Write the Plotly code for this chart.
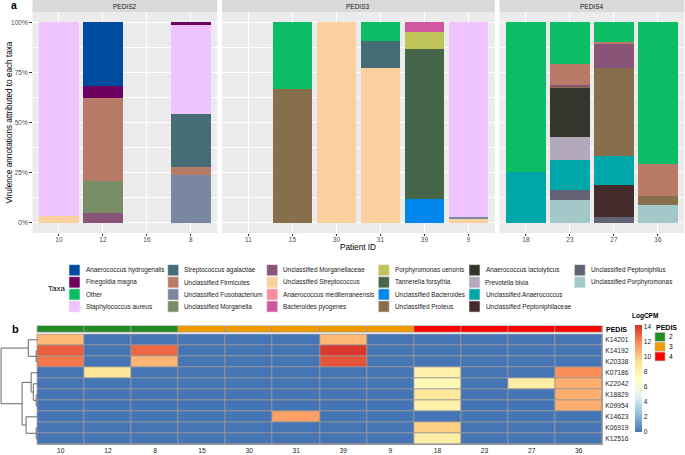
import plotly.graph_objects as go

W, H = 685, 455
FONT = "Liberation Sans, Arial, Helvetica, sans-serif"


def px(x):
    return x / W


def py(y):
    return 1 - y / H


# ---------------- Panel a data ----------------
pedis_groups = ["PEDIS2", "PEDIS3", "PEDIS4"]
group_patients = [["10", "12", "16", "8"],
                  ["11", "15", "30", "31", "39", "9"],
                  ["18", "23", "27", "36"]]
patients = [p for g in group_patients for p in g]

taxa = ["Anaerococcus hydrogenalis", "Finegoldia magna", "Other", "Staphylococcus aureus",
        "Streptococcus agalactiae", "Unclassified Firmicutes", "Unclassified Fusobacterium",
        "Unclassified Morganella", "Unclassified Morganellaceae", "Unclassified Streptococcus",
        "Anaerococcus mediterraneensis", "Bacteroides pyogenes", "Porphyromonas uenonis",
        "Tannerella forsythia", "Unclassified Bacteroides", "Unclassified Proteus",
        "Anaerococcus lactolyticus", "Prevotella bivia", "Unclassified Anaerococcus",
        "Unclassified Peptoniphilaceae", "Unclassified Peptoniphilus", "Unclassified Porphyromonas"]

taxa_colors = ["#004B9F", "#6E005F", "#0CBD66", "#EEC3FF",
               "#456D75", "#B77B68", "#7A87A1",
               "#788D66", "#885578", "#FAD09F",
               "#FF8A9A", "#D157A0", "#BEC459",
               "#456648", "#0086ED", "#886F4C",
               "#34362D", "#B4A8BD", "#00A6AA",
               "#452C2C", "#636375", "#A3C8C9"]

# percent of virulence annotations; columns follow `patients`
#          10    12   16   8     11  15    30   31    39    9     18    23    27    36
share = [
    [0,    31.7, 0,   0,    0,  0,    0,   0,    0,    0,    0,    0,    0,    0],
    [0,    6.1,  0,   1.2,  0,  0,    0,   0,    0,    0,    0,    0,    0,    0],
    [0,    0,    0,   0,    0,  33.4, 0,   9.1,  0,    0,    74.6, 20.8, 9.8,  70.6],
    [96.3, 0,    0,   44.6, 0,  0,    0,   0,    0,    97.2, 0,    0,    0,    0],
    [0,    0,    0,   26.1, 0,  0,    0,   13.5, 0,    0,    0,    0,    0,    0],
    [0,    41.5, 0,   4.0,  0,  0,    0,   0,    0,    0,    0,    10.5, 0.8,  15.8],
    [0,    0,    0,   24.1, 0,  0,    0,   0,    0,    0.5,  0,    0,    0,    0],
    [0,    15.8, 0,   0,    0,  0,    0,   0,    0,    0,    0,    0,    0,    0],
    [0,    4.9,  0,   0,    0,  0,    0,   0,    0,    0,    0,    0.9,  12.1, 0],
    [3.7,  0,    0,   0,    0,  0,    100, 77.4, 0,    2.3,  0,    0,    0,    0],
    [0,    0,    0,   0,    0,  0,    0,   0,    0,    0,    0,    0,    0,    0],
    [0,    0,    0,   0,    0,  0,    0,   0,    4.8,  0,    0,    0,    0,    0],
    [0,    0,    0,   0,    0,  0,    0,   0,    8.5,  0,    0,    0,    0,    0],
    [0,    0,    0,   0,    0,  0,    0,   0,    74.6, 0,    0,    0,    0,    0],
    [0,    0,    0,   0,    0,  0,    0,   0,    12.1, 0,    0,    0,    0,    0],
    [0,    0,    0,   0,    0,  66.6, 0,   0,    0,    0,    0,    0.8,  43.9, 4.6],
    [0,    0,    0,   0,    0,  0,    0,   0,    0,    0,    0,    24.3, 0,    0],
    [0,    0,    0,   0,    0,  0,    0,   0,    0,    0,    0,    11.5, 0,    0],
    [0,    0,    0,   0,    0,  0,    0,   0,    0,    0,    25.4, 15.1, 14.5, 0],
    [0,    0,    0,   0,    0,  0,    0,   0,    0,    0,    0,    0,    15.9, 0],
    [0,    0,    0,   0,    0,  0,    0,   0,    0,    0,    0,    4.7,  3.0,  0],
    [0,    0,    0,   0,    0,  0,    0,   0,    0,    0,    0,    11.6, 0,    9.0],
]

y_ticks = [0, 25, 50, 75, 100]
y_ticktext = ["0%", "25%", "50%", "75%", "100%"]

# ---------------- Panel b data ----------------
heat_cols = ["10", "12", "8", "15", "30", "31", "39", "9", "18", "23", "27", "36"]
heat_pedis = [2, 2, 2, 3, 3, 3, 3, 3, 4, 4, 4, 4]
ko_rows = ["K14201", "K14192", "K20338", "K07186", "K22042",
           "K18829", "K09954", "K14623", "K06919", "K12516"]
logcpm = [
    [10.6, 0,   0,    0, 0, 0,    10.6, 0, 0,   0, 0,   0],
    [13.0, 0,   12.8, 0, 0, 0,    14.0, 0, 0,   0, 0,   0],
    [12.4, 0,   10.7, 0, 0, 0,    13.3, 0, 0,   0, 0,   0],
    [0,    8.9, 0,    0, 0, 0,    0,    0, 8.2, 0, 0,   11.8],
    [0,    0,   0,    0, 0, 0,    0,    0, 7.5, 0, 8.4, 10.9],
    [0,    0,   0,    0, 0, 0,    0,    0, 8.8, 0, 0,   10.9],
    [0,    0,   0,    0, 0, 0,    0,    0, 8.2, 0, 0,   10.9],
    [0,    0,   0,    0, 0, 11.3, 0,    0, 0,   0, 0,   0],
    [0,    0,   0,    0, 0, 0,    0,    0, 9.9, 0, 0,   0],
    [0,    0,   0,    0, 0, 0,    0,    0, 8.5, 0, 0,   0],
]
# row dendrogram merges: (left node, right node, height); leaves are 0..9, new nodes 10..
row_merges = [(1, 2, 0.03), (0, 10, 0.25), (5, 6, 0.03), (4, 12, 0.11), (3, 13, 0.17),
              (8, 9, 0.03), (7, 15, 0.31), (14, 16, 0.42), (11, 17, 1.0)]
pedis_colors = {2: "#228B22", 3: "#EE9A00", 4: "#FF0000"}
heat_palette = ["#4575B4", "#91BFDB", "#E0F3F8", "#FFFFBF", "#FEE090", "#FC8D59", "#D73027"]

# ---------------- Figure ----------------
fig = go.Figure()
shapes = []
annotations = []


def note(text, x, y, size, xanchor="center", angle=0, color="black"):
    annotations.append(dict(text=text, x=px(x), y=py(y), xref="paper", yref="paper",
                            xanchor=xanchor, yanchor="middle", textangle=angle, showarrow=False,
                            borderpad=0, font=dict(family=FONT, size=size, color=color)))


panel_x = [(32.5, 217.3), (222.0, 494.8), (499.5, 684.3)]
panel_top, panel_bottom = 12.3, 233.0
strip_top = 0.0

for gi, (gname, gpats) in enumerate(zip(pedis_groups, group_patients)):
    xa = "x" if gi == 0 else f"x{gi + 1}"
    ya = "y" if gi == 0 else f"y{gi + 1}"
    idx = [patients.index(p) for p in gpats]
    for ti in range(len(taxa) - 1, -1, -1):
        vals = [share[ti][j] for j in idx]
        fig.add_trace(go.Bar(x=gpats, y=vals, width=0.9, marker=dict(color=taxa_colors[ti], line=dict(width=0)),
                             name=taxa[ti], showlegend=False, xaxis=xa, yaxis=ya,
                             hovertemplate="%{x}: %{y}%<extra>" + taxa[ti] + "</extra>"))
    x0, x1 = panel_x[gi]
    axis_common = dict(domain=[px(x0), px(x1)], type="category", categoryorder="array",
                       categoryarray=gpats, range=[-0.6, len(gpats) - 0.4],
                       showgrid=True, gridcolor="white", gridwidth=1.1, zeroline=False,
                       ticks="outside", ticklen=2, tickwidth=0.8, tickcolor="#333333",
                       ticklabelstandoff=-2,
                       tickfont=dict(family=FONT, size=6.5, color="#4D4D4D"), fixedrange=True)
    fig.update_layout({("xaxis" if gi == 0 else f"xaxis{gi + 1}"): dict(anchor=ya, **axis_common)})
    yax = dict(domain=[py(panel_bottom), py(panel_top)], range=[-5, 105], anchor=xa,
               tickvals=y_ticks, ticktext=y_ticktext, showgrid=True, gridcolor="white",
               gridwidth=1.1, zeroline=False,
               minor=dict(tickvals=[12.5, 37.5, 62.5, 87.5], showgrid=True, gridcolor="white",
                          gridwidth=0.5, ticks=""),
               tickfont=dict(family=FONT, size=6.5, color="#4D4D4D"), fixedrange=True)
    if gi == 0:
        yax.update(ticks="outside", ticklen=2.5, tickwidth=0.8, tickcolor="#333333")
    else:
        yax.update(showticklabels=False, ticks="")
    fig.update_layout({("yaxis" if gi == 0 else f"yaxis{gi + 1}"): yax})
    # panel background and strip
    shapes.append(dict(type="rect", xref="paper", yref="paper", x0=px(x0), x1=px(x1),
                       y0=py(panel_bottom), y1=py(panel_top), fillcolor="#EBEBEB",
                       line=dict(width=0), layer="below"))
    shapes.append(dict(type="rect", xref="paper", yref="paper", x0=px(x0), x1=px(x1),
                       y0=py(panel_top), y1=py(strip_top), fillcolor="#D9D9D9",
                       line=dict(width=0), layer="below"))
    note(gname, (x0 + x1) / 2, (strip_top + panel_top) / 2 + 0.3, 6.5, color="#1A1A1A")

fig.update_layout(barmode="stack", bargap=0.1)

# axis titles / panel label
note("Virulence annotations attributed to each taxa", 9, 122.5, 8.2, angle=-90)
note("Patient ID", 358, 248, 8.2)
note("<b>a</b>", 14, 5.5, 10.5)

# Taxa legend (6 columns x 4 rows, column-major like ggplot)
leg_col_x = [69, 167.7, 266.7, 378.3, 469, 574.3]
leg_row_y = [270.2, 282.3, 294.4, 306.5]
note("Taxa", 47, 288.5, 8, xanchor="left")
for i, (tname, tcol) in enumerate(zip(taxa, taxa_colors)):
    c, r = divmod(i, 4)
    lx, ly = leg_col_x[c], leg_row_y[r]
    shapes.append(dict(type="rect", xref="paper", yref="paper", x0=px(lx), x1=px(lx + 11),
                       y0=py(ly + 5.6), y1=py(ly - 5.6), fillcolor=tcol,
                       line=dict(width=0.6, color="#F2F2F2")))
    note(tname, lx + 15.5, ly, 6.4, xanchor="left", color="#1A1A1A")

# ---------------- Panel b ----------------
hx0, hx1, hy0, hy1 = 37.3, 602.3, 334.3, 444.3
by0, by1 = 326.0, 331.8

n = len(heat_palette)
colorscale = [[i / (n - 1), c] for i, c in enumerate(heat_palette)]
fig.add_trace(go.Heatmap(z=logcpm, x=heat_cols, y=ko_rows, xaxis="x4", yaxis="y4",
                         colorscale=colorscale, zmin=0, zmax=14.2, xgap=1, ygap=1,
                         hovertemplate="%{y} / %{x}: %{z}<extra></extra>",
                         colorbar=dict(x=px(635), xanchor="left", y=py(324.7), yanchor="top",
                                       len=106.8 / H, lenmode="fraction", thickness=6.5,
                                       thicknessmode="pixels", xpad=0, ypad=0, outlinewidth=0,
                                       tickvals=list(range(0, 15, 2)), ticks="",
                                       tickfont=dict(family=FONT, size=6.7, color="#222222"))))
fig.update_layout(
    xaxis4=dict(domain=[px(hx0), px(hx1)], anchor="y4", type="category", categoryorder="array",
                categoryarray=heat_cols, showgrid=False, zeroline=False, ticks="", showline=False,
                ticklabelstandoff=1,
                tickfont=dict(family=FONT, size=6.7, color="#222222"), fixedrange=True),
    yaxis4=dict(domain=[py(hy1), py(hy0)], anchor="x4", type="category", categoryorder="array",
                categoryarray=ko_rows, autorange="reversed", side="right", showgrid=False,
                zeroline=False, ticks="", ticklabelstandoff=2,
                tickfont=dict(family=FONT, size=6.7, color="#222222"),
                fixedrange=True),
)

# PEDIS annotation bar
pedis_levels = sorted(pedis_colors)
pcs = []
for k, lev in enumerate(pedis_levels):
    pcs.append([k / len(pedis_levels), pedis_colors[lev]])
    pcs.append([(k + 1) / len(pedis_levels), pedis_colors[lev]])
fig.add_trace(go.Heatmap(z=[heat_pedis], x=heat_cols, y=["PEDIS"], xaxis="x5", yaxis="y5",
                         colorscale=pcs, zmin=1.5, zmax=4.5, showscale=False, xgap=1,
                         hovertemplate="%{x}: PEDIS %{z}<extra></extra>"))
fig.update_layout(
    xaxis5=dict(domain=[px(hx0), px(hx1)], anchor="y5", type="category", categoryorder="array",
                categoryarray=heat_cols, visible=False, fixedrange=True),
    yaxis5=dict(domain=[py(by1), py(by0)], anchor="x5", visible=False, fixedrange=True),
)

# grey cell borders behind the heatmaps
for (a0, a1) in [(hy0, hy1), (by0, by1)]:
    shapes.append(dict(type="rect", xref="paper", yref="paper", x0=px(hx0 - 0.6), x1=px(hx1 + 0.6),
                       y0=py(a1 + 0.6), y1=py(a0 - 0.6), fillcolor="#999999",
                       line=dict(width=0), layer="below"))

# row dendrogram computed from merges
n_leaves = len(ko_rows)
node_pos = {i: (0.0, float(i)) for i in range(n_leaves)}
dx, dy = [], []
for k, (a, b, h) in enumerate(row_merges):
    ha, ya_ = node_pos[a]
    hb, yb_ = node_pos[b]
    dx += [ha, h, h, hb, None]
    dy += [ya_, ya_, yb_, yb_, None]
    node_pos[n_leaves + k] = (h, (ya_ + yb_) / 2)
fig.add_trace(go.Scatter(x=dx, y=dy, mode="lines", line=dict(color="#555555", width=0.9),
                         xaxis="x6", yaxis="y6", showlegend=False, hoverinfo="skip"))
max_h = max(m[2] for m in row_merges)
fig.update_layout(
    xaxis6=dict(domain=[0, px(hx0)], anchor="y6", range=[max_h * 1.03, 0], visible=False,
                fixedrange=True),
    yaxis6=dict(domain=[py(hy1), py(hy0)], anchor="x6", range=[n_leaves - 0.5, -0.5],
                visible=False, fixedrange=True),
)

note("<b>PEDIS</b>", 605, 329, 7, xanchor="left")
note("<b>b</b>", 15, 328.5, 11)
note("<b>LogCPM</b>", 631, 316, 6.5, xanchor="left")
note("<b>PEDIS</b>", 654.5, 327, 7, xanchor="left")
for k, lev in enumerate(pedis_levels):
    sy0 = 332.5 + k * 9.8
    shapes.append(dict(type="rect", xref="paper", yref="paper", x0=px(655), x1=px(665),
                       y0=py(sy0 + 8.8), y1=py(sy0), fillcolor=pedis_colors[lev],
                       line=dict(width=0.6, color="#BBBBBB")))
    note(str(lev), 667.5, sy0 + 4.4, 6.7, xanchor="left")

fig.update_layout(
    width=W, height=H, margin=dict(l=0, r=0, t=0, b=0, autoexpand=False),
    paper_bgcolor="white", plot_bgcolor="rgba(0,0,0,0)",
    font=dict(family=FONT), shapes=shapes, annotations=annotations, showlegend=False,
)

fig.write_html("out.html", config={"displayModeBar": False},
               post_script="document.body.style.margin='0';document.body.style.overflow='hidden';")
